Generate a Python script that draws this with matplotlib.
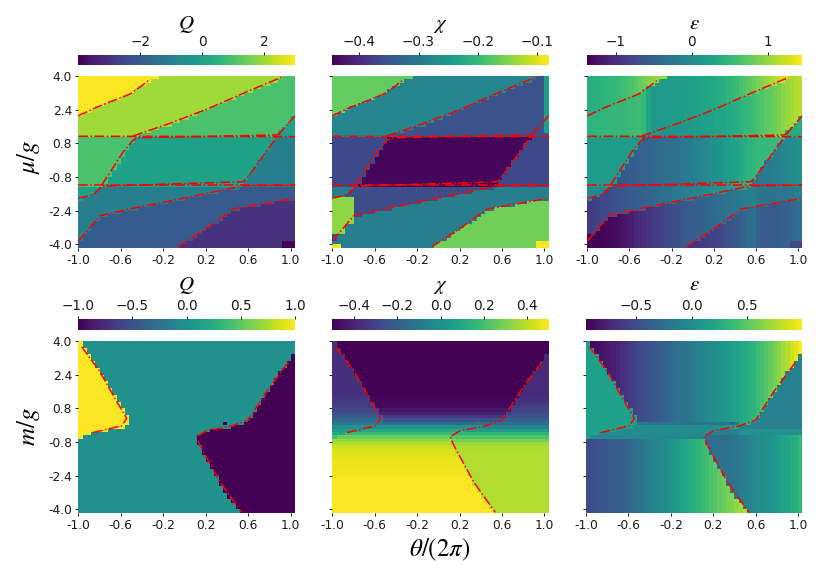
#!/usr/bin/env python3
# Six phase-diagram heatmaps: Q, chi, epsilon over theta/(2pi) vs mu/g and m/g.
import numpy as np
import matplotlib; matplotlib.use('Agg')
import matplotlib.pyplot as plt

N_CELLS = 51
X_LABELS = ['-1.0', '-0.6', '-0.2', '0.2', '0.6', '1.0']
Y_LABELS = ['4.0', '2.4', '0.8', '-0.8', '-2.4', '-4.0']

TOP_ROWS = [
    'A19 B29 C3', 'A17 B30 C4', 'A16 B29 C6', 'A14 B29 C8', 'A13 B28 C10', 'A12 B27 C12',
    'A10 B27 C14', 'A8 B27 C16', 'A6 B27 C18', 'A4 B27 C20', 'A3 B26 C22', 'A1 B27 C23',
    'B26 C24 D1', 'B24 C26 D1', 'B22 C27 D2', 'B19 C29 D3', 'B17 C30 D4', 'B14 C33 D4',
    'E13 F34 G4', 'E13 F33 G5', 'E12 F33 G6', 'E12 F33 G6', 'E11 F33 G7', 'E11 F33 G7',
    'E10 F33 G8', 'E10 F32 G9', 'E9 F33 G9', 'E9 F32 G10', 'E8 F33 G10', 'E8 F32 G11',
    'E7 F33 G11', 'E7 F32 G12', 'E6 F33 G12',
    'H5 I33 J13', 'H4 I29 J18', 'H3 I26 J22', 'H1 I24 J26', 'I21 J25 K5', 'I17 J26 K8',
    'I14 J24 K13', 'I10 J26 K15', 'I7 J28 K16', 'I5 J29 K17', 'I4 J29 K18', 'I3 J28 K20',
    'I3 J27 K21', 'I2 J27 K22', 'I1 J27 K23', 'I1 J26 K24', 'J25 K23 L3', 'J24 K24 L3',
]

BOTTOM_ROWS = [
    'M1 N50', 'M1 N50', 'M2 N49', 'M2 N49', 'M3 N47 P1', 'M3 N47 P1', 'M4 N45 P2', 'M4 N45 P2',
    'M5 N43 P3', 'M5 N42 P4', 'M6 N41 P4', 'M6 N40 P5', 'M7 N39 P5', 'M7 N38 P6', 'M8 N37 P6',
    'M8 N36 P7', 'M9 N35 P7', 'M9 N34 P8', 'M10 N33 P8', 'M10 N32 P9', 'M11 N31 P9',
    'M11 N30 P10', 'M12 N29 P10', 'M12 N28 P11', 'M12 N27 P12', 'M11 N25 P15', 'M7 N24 P20',
    'M3 N26 P22', 'M1 O27 R23', 'O28 R23', 'O28 R23', 'O29 R22', 'O29 R22', 'O29 R22',
    'O30 R21', 'O30 R21', 'O31 R20', 'O31 R20', 'O32 R19', 'O32 R19', 'O33 R18', 'O33 R18',
    'O33 R18', 'O34 R17', 'O34 R17', 'O35 R16', 'O35 R16', 'O36 R15', 'O37 R14', 'O37 R14',
    'O38 R13',
]

# region values: a number, or 51 values (across the columns or down the rows)
Q_TOP = dict(A=3, B=2, C=1, D=0, E=1, F=0, G=-1, H=0, I=-1, J=-2, K=-3, L=-4)
CHI_TOP = dict(A=-0.168, B=-0.28, C=-0.354, D=-0.354, E=-0.365, F=-0.44, G=-0.365,
               H=-0.29, I=-0.36, J=-0.29, K=-0.16, L=-0.081)
EPS_TOP = dict(
    A=[.38, .4, .42, .44, .46, .48, .5, .53, .56, .6, .65, .7, .77, .84, .9, .96, 1.0, 1.02, 1.02] + [1.02] * 32,
    B=[.45, .45, .46, .46, .47, .48, .49, .5, .5, .52, .54, .55, .57, .5,
       .3, .14, .14, .14, .15, .16, .17, .18, .19, .2,
       .21, .22, .25, .27, .3, .32, .35, .37, .4, .45,
       .5, .55, .62, .68, .74, .8, .86, .92, .98, 1.05,
       1.12, 1.18, 1.25, 1.3, 1.3, 1.3, 1.3],
    C=[.08] * 13 + [.08, .08, .08, .08, .09, .09, .1, .1,
                    .11, .12, .13, .15, .16, .18, .2, .22, .24, .26,
                    .27, .3, .33, .36, .4, .44, .48, .52, .57, .62,
                    .67, .72, .77, .82, .88, .94, 1.0, 1.06, 1.11, 1.15],
    D=.38, E=.18,
    F=[-.67] * 6 + [-.67, -.65, -.62, -.6, -.57, -.54, -.51, -.48, -.46, -.44,
                    -.41, -.39, -.37, -.35, -.33, -.31, -.28, -.24, -.2, -.16,
                    -.12, -.08, -.04, 0, .04, .09, .14, .19, .24, .29,
                    .34, .39, .44, .48, .52] + [.52] * 10,
    G=[-.3] * 38 + [-.3, -.29, -.27, -.25, -.22, -.2, -.17, -.14, -.1, -.06, -.02, .02, .04],
    H=-.07,
    I=[-.9, -.85, -.8, -.78, -.75, -.72, -.68, -.65, -.62, -.6,
       -.57, -.55, -.53, -.5, -.47, -.44, -.41, -.38, -.35, -.31,
       -.27, -.24, -.21, -.18, -.15, -.12, -.09, -.06, -.03, 0,
       .03, .06, .09, .12, .15, .18, .2, .22, .24, .25] + [.25] * 11,
    J=[-1.37, -1.37, -1.36, -1.35, -1.33, -1.31, -1.29, -1.26, -1.22, -1.18,
       -1.13, -1.08, -1.03, -.98, -.94, -.9, -.86, -.82, -.78, -.75,
       -.71, -.68, -.64, -.6, -.57, -.54, -.51, -.48, -.45, -.42,
       -.4, -.37, -.34, -.31, -.28, -.25, -.22, -.19, -.17, -.16,
       -.25, -.3, -.3, -.3, -.29, -.28, -.27, -.25, -.22, -.19, -.16],
    K=[-.98] * 24 + [-.98, -.95, -.92, -.89, -.86, -.83,
                     -.8, -.77, -.72, -.68, -.63, -.58, -.52, -.45, -.38, -.36,
                     -.5, -.58, -.6, -.6, -.58, -.55, -.52, -.48, -.44, -.4, -.36],
    L=-.75,
)

Q_BOTTOM = dict(M=1, N=0, O=0, P=-1, R=-1)
CHI_MAIN = [-.5] * 16 + [-.49, -.49, -.48, -.47, -.44, -.4, -.34, -.25, -.15, 0, .1, .17, .27, .34,
                         .39, .42, .44, .45, .46, .47, .47, .48, .48, .48, .49] + [.5] * 10
CHI_LEFT = [-.36] * 16 + [-.35, -.34, -.33, -.31, -.29, -.26, -.22, -.16, -.1, 0, .05, .1, .2] + [.2] * 22
CHI_RIGHT = [-.38] * 16 + [-.37, -.36, -.34, -.32, -.3, -.28, -.25, -.2, -.14, -.05, .05, .15, .22,
                           .3, .35, .37] + [.38] * 19
CHI_BOTTOM = dict(M=CHI_LEFT, N=CHI_MAIN, O=CHI_MAIN, P=CHI_RIGHT, R=CHI_RIGHT)
EPS_BOTTOM = dict(
    M=.15,
    N=[-.955, -.93, -.9, -.87, -.84, -.81, -.78, -.75, -.71, -.67,
       -.62, -.57, -.53, -.5, -.47, -.44, -.41, -.38, -.35, -.32,
       -.29, -.26, -.23, -.2, -.17, -.14, -.11, -.08, -.05, -.02,
       .01, .04, .07, .1, .13, .17, .2, .24, .28, .32,
       .37, .42, .47, .53, .59, .65, .71, .78, .85, .92, 1.0],
    O=[-.5, -.49, -.47, -.45, -.44, -.42, -.4, -.38, -.36, -.33,
       -.3, -.27, -.23, -.19, -.15, -.11, -.07, -.04, -.01, .02,
       .08, .12, .16, .2, .24, .28, .32, .36, .4, .44,
       .48, .52, .56, .6, .64, .68, .72, .77, .82, .87] + [.9] * 11,
    P=-.1,
    R=[-.27] * 28 + [-.27, -.27, -.26, -.25, -.24, -.22, -.2, -.18, -.15, -.12,
                     -.09, -.06, -.03, 0, .03, .06, .09, .13, .17, .2, .24, .28, .33],
)

# small blocks that differ from their region: row0, row1, col0, col1, value
CHI_TOP_PATCH = [(36, 44, 0, 5, -.143), (44, 47, 0, 3, -.143), (50, 51, 0, 2, -.085), (0, 17, 50, 51, -.24)]
EPS_TOP_PATCH = [(47, 50, 0, 2, -1.37)]
Q_BOTTOM_PATCH = [(24, 25, 34, 35, -1)]
CHI_BOTTOM_PATCH = [(24, 25, 34, 35, -.1)]
EPS_BOTTOM_PATCH = [(24, 25, 12, 36, -.2), (25, 26, 11, 29, -.02), (26, 27, 7, 29, -.02), (27, 28, 3, 29, -.02),
                    (26, 28, 36, 51, .02), (28, 29, 1, 28, -.05), (24, 25, 34, 35, -.35)]

# phase boundaries in cell coordinates (column, row)
TOP_LINES = [
    ([0, 4.3, 12.1, 14.5, 16.9], [11.8, 9.3, 5.4, 3.3, 1.0]),
    ([12.9, 20.8, 30.2, 39.6, 47.8], [17.8, 14.4, 9.9, 4.7, 0.4]),
    ([0, 51], [17.9, 18.0]),
    ([0, 51], [32.5, 32.5]),
    ([0, 3.5, 5.5, 6.7, 38.8, 40, 47.5, 51], [36.3, 35.3, 32.9, 32.7, 31.4, 29.9, 16.8, 11.8]),
    ([5.5, 10.6, 12.9, 14.5, 28.6, 46.7, 47.8], [32.4, 22.5, 19, 18.3, 18, 17.5, 16.7]),
    ([0, 5.1, 12.9, 30.2, 38.8, 51], [49, 41.5, 39.3, 34.9, 32.6, 32.5]),
    ([23.5, 30.2, 36.5, 44.3, 51], [50.7, 45.2, 39.5, 37.8, 36.3]),
]
BOTTOM_LINES = [
    ([0.8, 5.1, 8.6, 11.4, 10.2, 3.1], [1.7, 9.1, 17, 23, 25.2, 27.3]),
    ([49.4, 44.3, 40, 35.7, 30.2, 27.8, 28.6, 33.3, 38.4], [6.3, 15, 23.5, 25.4, 26.6, 28.4, 30.9, 41.8, 50.9]),
]

plt.rcParams['mathtext.fontset'] = 'stix'


def build_grid(rows, table, patches=(), across=True):
    grid = np.zeros((N_CELLS, N_CELLS))
    for r, row in enumerate(rows):
        c = 0
        for run in row.split():
            letter, count = run[0], int(run[1:])
            for _ in range(count):
                if c >= N_CELLS:
                    break
                v = table[letter]
                if np.isscalar(v):
                    grid[r, c] = v
                else:
                    grid[r, c] = v[c] if across else v[r]
                c += 1
        grid[r, c:] = grid[r, c - 1]
    for r0, r1, c0, c1, v in patches:
        grid[r0:r1, c0:c1] = v
    return grid


def draw_panel(fig, box, cbox, grid, lims, cticks, ctitle, lines, left, tpad):
    W, H = 830.0, 572.0
    x0, x1, y0, y1 = box
    ax = fig.add_axes([x0 / W, 1 - y1 / H, (x1 - x0) / W, (y1 - y0) / H])
    edges = np.arange(N_CELLS + 1)
    mesh = ax.pcolormesh(edges, edges, grid, cmap='viridis', vmin=lims[0], vmax=lims[1])
    ax.set_xlim(0, N_CELLS)
    ax.set_ylim(N_CELLS, 0)
    for s in ax.spines.values():
        s.set_visible(False)
    ticks = np.arange(0, 51, 10)
    ax.set_xticks(ticks, X_LABELS, fontsize=8.8)
    ax.set_yticks(ticks, Y_LABELS if left else [''] * 6, fontsize=8.8)
    ax.tick_params(length=2.5, width=0.7, pad=2, colors='#1a1a1a')
    for xs, ys in lines:
        ax.plot(xs, ys, color='red', lw=1.1, ls='-.', clip_on=True)

    cax = fig.add_axes([x0 / W, 1 - cbox[1] / H, (x1 - x0) / W, (cbox[1] - cbox[0]) / H])
    cb = fig.colorbar(mesh, cax=cax, orientation='horizontal', ticks=cticks)
    cb.outline.set_visible(False)
    cax.xaxis.set_ticks_position('top')
    cax.tick_params(length=2.5, width=0.7, pad=2, labelsize=9.8, colors='#1a1a1a')
    cax.set_title(ctitle, fontsize=15, pad=tpad)


def main():
    fig = plt.figure(figsize=(8.3, 5.72), dpi=100)

    top_q = build_grid(TOP_ROWS, Q_TOP)
    top_chi = build_grid(TOP_ROWS, CHI_TOP, CHI_TOP_PATCH)
    top_eps = build_grid(TOP_ROWS, EPS_TOP, EPS_TOP_PATCH)
    bot_q = build_grid(BOTTOM_ROWS, Q_BOTTOM, Q_BOTTOM_PATCH)
    bot_chi = build_grid(BOTTOM_ROWS, CHI_BOTTOM, CHI_BOTTOM_PATCH, across=False)
    bot_eps = build_grid(BOTTOM_ROWS, EPS_BOTTOM, EPS_BOTTOM_PATCH)

    ty, tc = (76, 247.7), (55, 65.3)
    by, bc = (341, 512.7), (319, 330)

    draw_panel(fig, (78.3, 295, *ty), tc, top_q, (-4, 3), [-2, 0, 2], '$Q$', TOP_LINES, True, 4)
    draw_panel(fig, (332.3, 548.7, *ty), tc, top_chi, (-0.445, -0.081), [-0.4, -0.3, -0.2, -0.1], r'$\chi$', TOP_LINES, False, 4)
    draw_panel(fig, (587.3, 802.3, *ty), tc, top_eps, (-1.37, 1.445), [-1, 0, 1], r'$\varepsilon$', TOP_LINES, False, 4)
    draw_panel(fig, (78.3, 295, *by), bc, bot_q, (-1, 1), [-1, -0.5, 0, 0.5, 1], '$Q$', BOTTOM_LINES, True, 6)
    draw_panel(fig, (332.3, 548.7, *by), bc, bot_chi, (-0.5, 0.5), [-0.4, -0.2, 0, 0.2, 0.4], r'$\chi$', BOTTOM_LINES, False, 6)
    draw_panel(fig, (586, 802.3, *by), bc, bot_eps, (-0.955, 1.0), [-0.5, 0, 0.5], r'$\varepsilon$', BOTTOM_LINES, False, 6)

    fig.text(28 / 830, 1 - 157 / 572, r'$\mu/g$', rotation=90, ha='center', va='center', fontsize=18)
    fig.text(28 / 830, 1 - 427 / 572, r'$m/g$', rotation=90, ha='center', va='center', fontsize=18)
    fig.text(440 / 830, 1 - 550 / 572, r'$\theta/(2\pi)$', ha='center', va='center', fontsize=18)

    fig.savefig('out.png', dpi=100)


if __name__ == '__main__':
    main()
